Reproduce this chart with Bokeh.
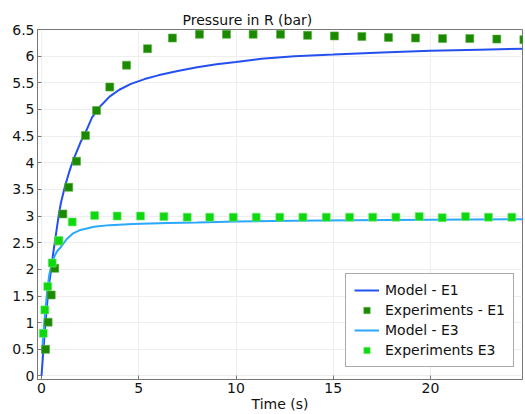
from bokeh.plotting import figure
from bokeh.models import (ColumnDataSource, Legend, LegendItem,
                          FixedTicker, Range1d)
from bokeh.embed import file_html
from bokeh.resources import INLINE

# ---- data ----
model_e1_t = [0.0, 0.05, 0.1, 0.2, 0.3, 0.4, 0.5, 0.6, 0.7, 0.8, 0.9, 1.0,
              1.2, 1.4, 1.6, 1.8, 2.0, 2.3, 2.6, 3.0, 3.5, 4.0, 4.6, 5.3,
              6.0, 7.0, 8.0, 9.0, 10.0, 11.3, 13.0, 15.0, 17.5, 20.0, 22.5, 24.8]
model_e1_p = [0.0, 0.25, 0.5, 0.98, 1.4, 1.75, 2.0, 2.3, 2.55, 2.8, 3.05, 3.25,
              3.55, 3.8, 4.02, 4.2, 4.38, 4.6, 4.85, 5.05, 5.24, 5.37, 5.48, 5.57,
              5.64, 5.72, 5.79, 5.85, 5.89, 5.95, 6.0, 6.03, 6.07, 6.10, 6.12, 6.14]

model_e3_t = [0.03, 0.1, 0.2, 0.3, 0.4, 0.5, 0.6, 0.7, 0.8, 1.0, 1.3, 1.6,
              2.0, 2.7, 3.5, 4.7, 6.5, 8.0, 10.0, 13.0, 16.0, 20.0, 24.8]
model_e3_p = [0.42, 0.8, 1.25, 1.62, 1.9, 2.06, 2.18, 2.27, 2.34, 2.42, 2.57, 2.67,
              2.74, 2.8, 2.83, 2.85, 2.87, 2.88, 2.9, 2.91, 2.92, 2.93, 2.94]

exp_e1_t = [0.21, 0.34, 0.50, 0.68, 0.88, 1.10, 1.40, 1.80, 2.26, 2.83, 3.51,
            4.37, 5.45, 6.73, 8.12, 9.51, 10.88, 12.29, 13.68, 15.06, 16.47,
            17.84, 19.23, 20.62, 22.02, 23.41, 24.80]
exp_e1_p = [0.50, 1.01, 1.52, 2.02, 2.53, 3.04, 3.54, 4.03, 4.51, 4.98, 5.42,
            5.83, 6.14, 6.34, 6.41, 6.41, 6.41, 6.41, 6.39, 6.38, 6.37,
            6.35, 6.34, 6.33, 6.33, 6.32, 6.31]

exp_e3_t = [0.09, 0.17, 0.32, 0.55, 0.89, 1.58, 2.73, 3.89, 5.09, 6.29, 7.49,
            8.65, 9.86, 11.04, 12.25, 13.44, 14.64, 15.84, 17.03, 18.22, 19.42,
            20.60, 21.80, 22.98, 24.18]
exp_e3_p = [0.80, 1.24, 1.68, 2.12, 2.54, 2.89, 3.01, 3.00, 3.00, 2.99, 2.98,
            2.98, 2.98, 2.98, 2.98, 2.98, 2.98, 2.98, 2.98, 2.98, 2.99,
            2.97, 2.99, 2.98, 2.98]

x_ticks = [0, 5, 10, 15, 20]
x_tick_labels = ["0", "5", "10", "15", "20"]
y_ticks = [0, 0.5, 1, 1.5, 2, 2.5, 3, 3.5, 4, 4.5, 5, 5.5, 6, 6.5]
y_tick_labels = ["0", "0.5", "1", "1.5", "2", "2.5", "3", "3.5", "4", "4.5",
                 "5", "5.5", "6", "6.5"]

FONT = "DejaVu Sans"
AXIS_COLOR = "#777777"

p = figure(width=525, height=414, output_backend="svg", toolbar_location=None,
           x_range=Range1d(-0.206, 24.73), y_range=Range1d(-0.066, 6.5),
           min_border_left=37, min_border_right=3, min_border_top=29,
           min_border_bottom=35)
p.title.text = "Pressure in R (bar)"
p.title.text_font = FONT
p.title.text_font_size = "14px"
p.title.text_font_style = "normal"
p.title.text_color = "#111111"
p.title.align = "left"
p.title.offset = 145
p.title.standoff = 4

p.background_fill_color = "white"
p.border_fill_color = "white"
p.outline_line_color = AXIS_COLOR

src_m1 = ColumnDataSource(dict(t=model_e1_t, p=model_e1_p))
src_m3 = ColumnDataSource(dict(t=model_e3_t, p=model_e3_p))
src_e1 = ColumnDataSource(dict(t=exp_e1_t, p=exp_e1_p))
src_e3 = ColumnDataSource(dict(t=exp_e3_t, p=exp_e3_p))

r_m1 = p.line("t", "p", source=src_m1, line_color="#2450f0", line_width=2)
r_m3 = p.line("t", "p", source=src_m3, line_color="#2aa8ff", line_width=2)
r_e1 = p.scatter("t", "p", source=src_e1, marker="square", size=8,
                 fill_color="#1c8a00", line_color="#55b040", line_width=0.6)
r_e3 = p.scatter("t", "p", source=src_e3, marker="square", size=8,
                 fill_color="#10d810", line_color="#70ee70", line_width=0.6)

for ax in (p.xaxis[0], p.yaxis[0]):
    ax.axis_line_color = AXIS_COLOR
    ax.major_tick_line_color = AXIS_COLOR
    ax.major_tick_in = 4
    ax.major_tick_out = 0
    ax.minor_tick_line_color = None
    ax.major_label_text_font = FONT
    ax.major_label_text_font_size = "14px"
    ax.major_label_text_color = "#111111"

p.xaxis[0].ticker = FixedTicker(ticks=x_ticks)
p.xaxis[0].major_label_overrides = dict(zip(x_ticks, x_tick_labels))
p.yaxis[0].ticker = FixedTicker(ticks=y_ticks)
p.yaxis[0].major_label_overrides = dict(zip(y_ticks, y_tick_labels))
p.xaxis[0].major_label_standoff = 3
p.yaxis[0].major_label_standoff = 3
p.xaxis[0].axis_label = "Time (s)"
p.xaxis[0].axis_label_text_font = FONT
p.xaxis[0].axis_label_text_font_size = "14px"
p.xaxis[0].axis_label_text_font_style = "normal"
p.xaxis[0].axis_label_text_color = "#111111"
p.xaxis[0].axis_label_standoff = 0

p.xgrid.ticker = FixedTicker(ticks=x_ticks)
p.ygrid.ticker = FixedTicker(ticks=y_ticks)
p.xgrid.grid_line_color = "#eeeeee"
p.ygrid.grid_line_color = "#eeeeee"

legend = Legend(items=[
    LegendItem(label="Model - E1", renderers=[r_m1]),
    LegendItem(label="Experiments - E1", renderers=[r_e1]),
    LegendItem(label="Model - E3", renderers=[r_m3]),
    LegendItem(label="Experiments E3", renderers=[r_e3]),
], location=(308, 12))
legend.label_text_font = FONT
legend.label_text_font_size = "14px"
legend.label_text_color = "#111111"
legend.border_line_color = "#555555"
legend.border_line_width = 1
legend.background_fill_color = "white"
legend.background_fill_alpha = 1
legend.glyph_width = 25
legend.glyph_height = 16
legend.label_height = 16
legend.spacing = 4
legend.padding = 8
legend.margin = 0
legend.label_standoff = 6
p.add_layout(legend, "center")

open("out.html", "w").write(file_html(p, INLINE))
